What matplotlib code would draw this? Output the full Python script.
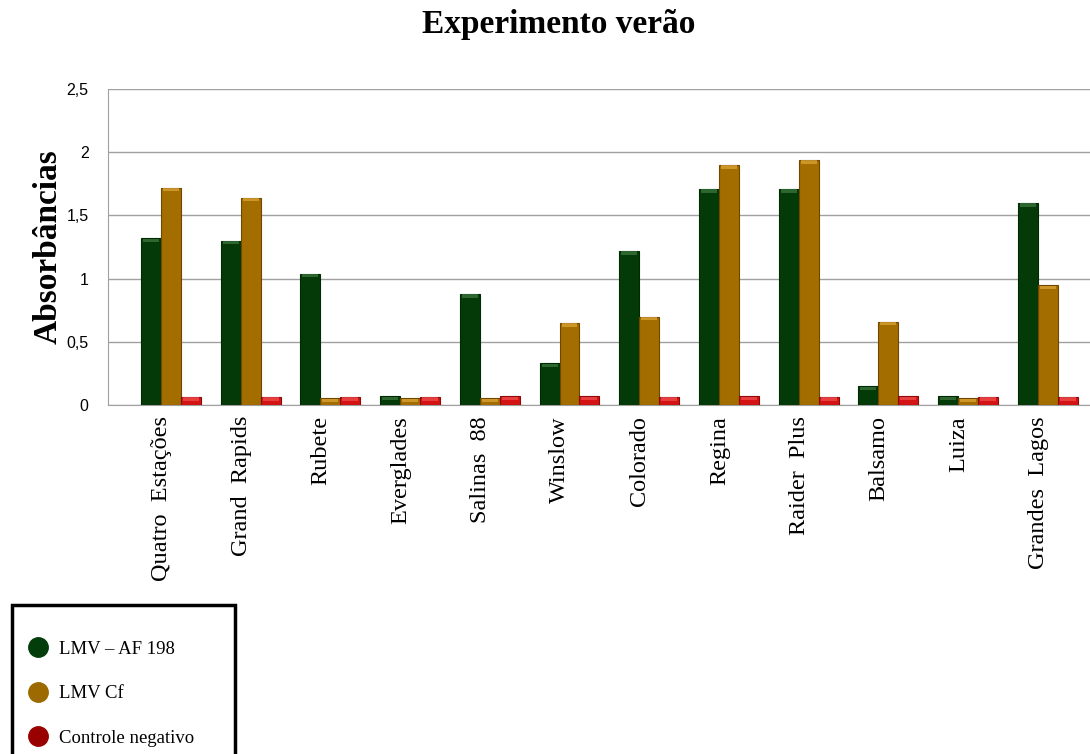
import numpy as np
import matplotlib
matplotlib.use("Agg")
import matplotlib.pyplot as plt
from matplotlib.patches import Rectangle
from matplotlib.lines import Line2D

cultivares = ["Quatro  Estações", "Grand  Rapids", "Rubete", "Everglades", "Salinas  88",
              "Winslow", "Colorado", "Regina", "Raider  Plus", "Balsamo", "Luiza", "Grandes  Lagos"]
lmv_af198 = [1.32, 1.30, 1.04, 0.07, 0.88, 0.33, 1.22, 1.71, 1.71, 0.15, 0.07, 1.60]
lmv_cf = [1.72, 1.64, 0.055, 0.055, 0.055, 0.65, 0.70, 1.90, 1.94, 0.66, 0.055, 0.95]
controle = [0.065, 0.065, 0.065, 0.065, 0.07, 0.07, 0.065, 0.07, 0.065, 0.07, 0.065, 0.065]
series_names = ["LMV \u2013 AF 198", "LMV Cf", "Controle negativo"]

bar_colors = ["#033a08", "#a36d00", "#d41414"]
edge_colors = ["#012a04", "#6e4800", "#8a0a0a"]
cap_colors = ["#3f7a3f", "#e0a838", "#f25050"]
legend_colors = ["#023d0b", "#9c6a00", "#990000"]

serif = ["Liberation Serif", "DejaVu Serif"]

fig = plt.figure(figsize=(10.9, 7.54), dpi=100)
ax = fig.add_axes([108 / 1090, 1 - 405 / 754, (1090 - 108) / 1090, (405 - 89) / 754])

x = np.arange(len(cultivares))
w = 0.25
for i, vals in enumerate([lmv_af198, lmv_cf, controle]):
    ax.bar(x + (i - 1) * w, vals, width=w, color=bar_colors[i],
           edgecolor=edge_colors[i], linewidth=0.8, zorder=3)
    # light bevel on the top of each bar
    ax.bar(x + (i - 1) * w, [0.025] * len(vals), bottom=np.array(vals) - 0.03, width=w * 0.8,
           color=cap_colors[i], linewidth=0, zorder=4, alpha=0.7)

ax.set_xlim(-0.79, 11.53)
ax.set_ylim(0, 2.5)
ax.set_yticks([0, 0.5, 1, 1.5, 2, 2.5])
ax.set_yticklabels(["0", "0,5", "1", "1,5", "2", "2,5"], fontsize=11.5, family="Liberation Sans")
ax.set_xticks(x - 0.12)
ax.set_xticklabels(cultivares, rotation=90, fontsize=17.5, family=serif, va="top", ha="center")
ax.tick_params(length=0, pad=8)
ax.tick_params(axis="y", pad=14)
ax.grid(axis="y", color="#a0a0a0", linewidth=1, zorder=0)
for s in ["top", "right"]:
    ax.spines[s].set_visible(False)
for s in ["left", "bottom"]:
    ax.spines[s].set_color("#a0a0a0")

ax.set_ylabel("Absorbâncias", fontsize=24, fontweight="bold", family=serif, labelpad=2)
fig.text(0.513, 0.967, "Experimento verão", fontsize=24, fontweight="bold",
         family=serif, ha="center", va="center")

# legend box (cut by the bottom of the figure)
fig.patches.append(Rectangle((12 / 1090, -0.02), (235 - 12) / 1090, 0.02 + (754 - 605) / 754,
                             transform=fig.transFigure, fill=False, edgecolor="black",
                             linewidth=2.5))
handles = [Line2D([], [], marker="o", linestyle="none", markersize=14,
                  markerfacecolor=c, markeredgecolor=c) for c in legend_colors]
fig.legend(handles, series_names, loc="upper left", bbox_to_anchor=(10 / 1090, 1 - 624 / 754),
           frameon=False, prop={"family": serif, "size": 13.5}, labelspacing=1.45,
           handletextpad=0.5, handlelength=1.2)

fig.savefig("out.png", dpi=100)
